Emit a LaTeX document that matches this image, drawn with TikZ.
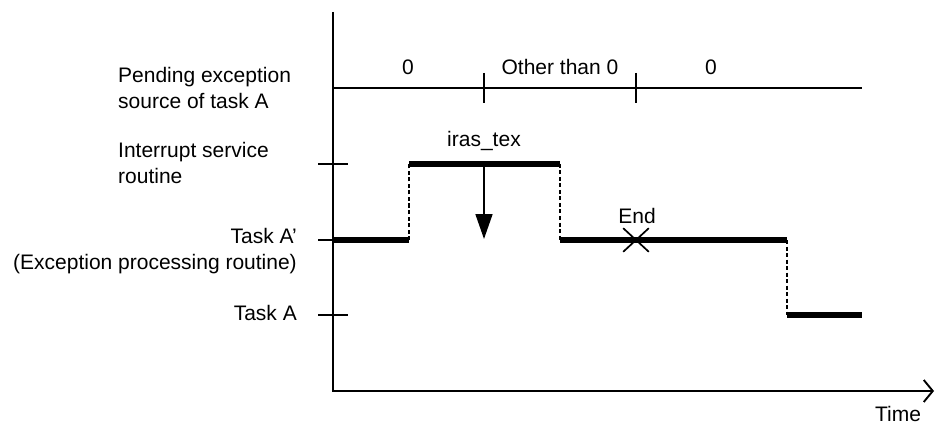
\documentclass[tikz,border=0pt]{standalone}
\usepackage{fontspec}
\setmainfont{Liberation Sans}
\usetikzlibrary{arrows.meta,shapes.misc}
\begin{document}
\begin{tikzpicture}[x=1pt,y=-1pt,
  lbl/.style={font=\fontsize{21}{26}\selectfont, inner sep=0pt},
  axisline/.style={line width=1.9pt},
  rowline/.style={line width=1.5pt},
  levelline/.style={line width=5.5pt},
  switchline/.style={line width=1.4pt, dash pattern=on 4pt off 2.5pt},
  tickline/.style={line width=1.6pt},
]
\useasboundingbox (0,0) rectangle (935,425);

% axes
\coordinate (ytop) at (333,12);
\coordinate (origin) at (333,391);
\coordinate (xend) at (934,391);
\draw[axisline, -{Straight Barb[length=9pt,width=22pt,line width=1.9pt]}]
  (ytop) -- (origin) -- (xend);
\node[lbl] (time) at (898,414) {Time};

% pending exception source row
\coordinate (p0) at (333,88);
\coordinate (p3) at (862,88);
\draw[rowline] (p0) -- (p3);
\coordinate (t1a) at (484,73); \coordinate (t1b) at (484,103);
\coordinate (t2a) at (636,73); \coordinate (t2b) at (636,103);
\draw[tickline] (t1a) -- (t1b);
\draw[tickline] (t2a) -- (t2b);
\node[lbl] (v1) at (408,67) {0};
\node[lbl] (v2) at (560,67) {Other than 0};
\node[lbl] (v3) at (711,67) {0};

% level ticks on the vertical axis
\coordinate (isrL) at (318,164); \coordinate (isrR) at (348,164);
\coordinate (tapL) at (318,240); \coordinate (tapR) at (348,240);
\coordinate (taL) at (318,315);  \coordinate (taR) at (348,315);
\draw[tickline] (isrL) -- (isrR);
\draw[tickline] (tapL) -- (tapR);
\draw[tickline] (taL) -- (taR);

% row labels
\node[lbl, anchor=west, align=left] (lpend) at (118,88)
  {Pending exception\\source of task A};
\node[lbl, anchor=west, align=left] (lisr) at (118,163)
  {Interrupt service\\routine};
\node[lbl, anchor=east, align=right] (ltap) at (297,251)
  {Task A’\\(Exception processing routine)};
\node[lbl, anchor=east] (lta) at (297,313) {Task A};

% execution levels
\coordinate (a0) at (333,240);
\coordinate (a1) at (409,240);
\coordinate (i1) at (409,164);
\coordinate (i2) at (560,164);
\coordinate (a2) at (560,240);
\coordinate (a3) at (787,240);
\coordinate (b3) at (787,315);
\coordinate (b4) at (862,315);
\draw[levelline] (a0) -- (a1);
\draw[switchline] (a1) -- (i1);
\draw[levelline] (i1) -- (i2);
\draw[switchline] (i2) -- (a2);
\draw[levelline] (a2) -- (a3);
\draw[switchline] (a3) -- (b3);
\draw[levelline] (b3) -- (b4);

% iras_tex request
\coordinate (rq0) at (484,164);
\coordinate (rq1) at (484,239);
\node[lbl] (iras) at (484,141) {iras\_tex};
\draw[line width=1.7pt, -{Triangle[length=25pt,width=17pt]}] (rq0) -- (rq1);

% end of the exception processing routine
\node[draw, cross out, line width=1.7pt, minimum width=24pt, minimum height=22pt, inner sep=0pt] (endmark) at (636,240) {};
\node[lbl] (endlbl) at (637,216) {End};
\end{tikzpicture}
\end{document}
